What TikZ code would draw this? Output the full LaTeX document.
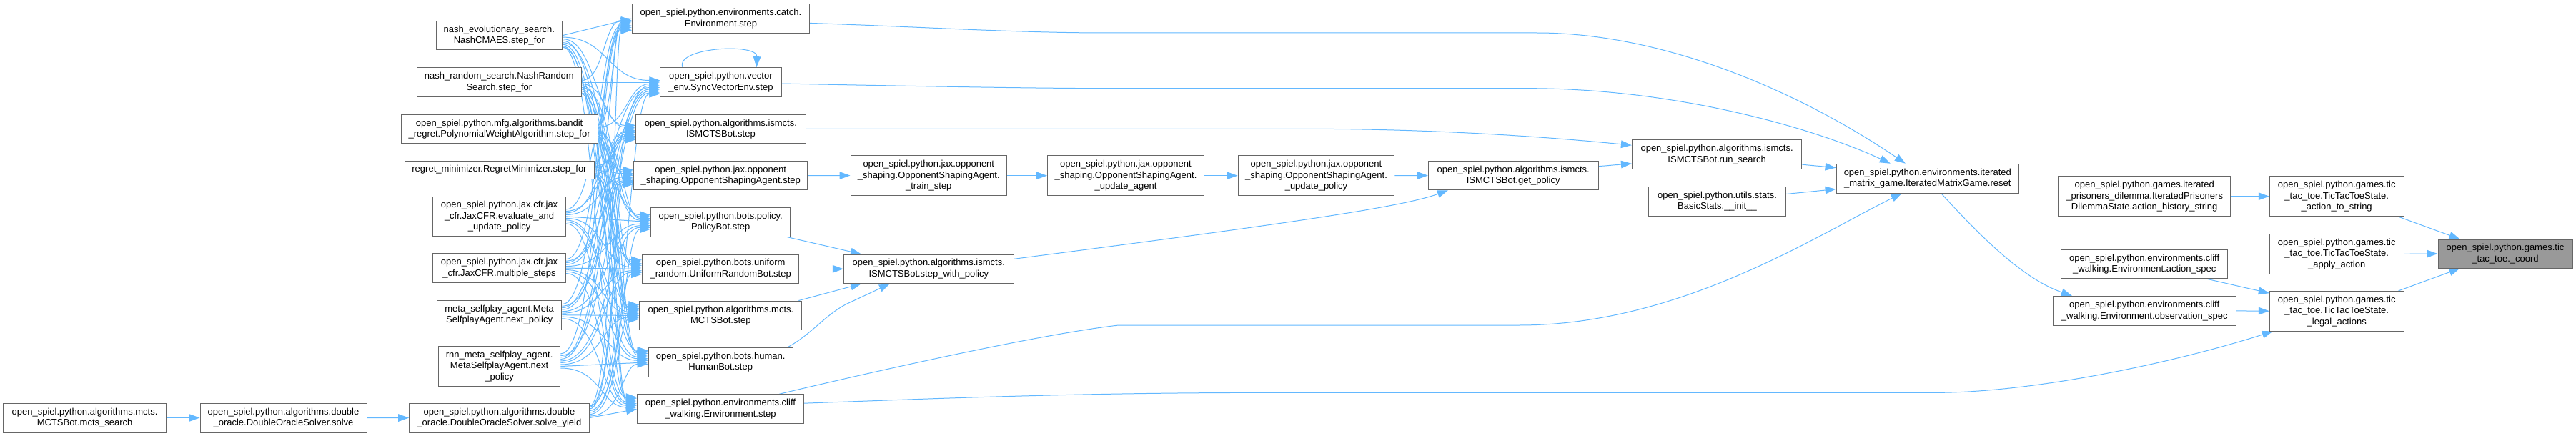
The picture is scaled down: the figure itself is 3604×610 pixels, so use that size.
\documentclass[tikz,border=0pt]{standalone}
\usepackage{fontspec}
\setmainfont{Liberation Sans}
\usetikzlibrary{arrows.meta,calc}
\definecolor{edgeblue}{HTML}{63B8FF}
\definecolor{boxgray}{HTML}{666666}
\definecolor{focusgray}{HTML}{999999}
\pgfdeclarelayer{background}
\pgfsetlayers{background,main}
\tikzset{
  box/.style={draw=boxgray, line width=1pt, fill=white, align=center, inner sep=0pt,
    font=\fontsize{13pt}{15.5pt}\selectfont, text=black},
  focus/.style={box, fill=focusgray},
  edge/.style={draw=edgeblue, line width=1pt, -{Triangle[length=15pt,width=10.5pt]}}
}
\begin{document}
\begin{tikzpicture}[x=1pt,y=-1pt]
\useasboundingbox (0,0) rectangle (3604,610);
% column 0/1
\node[box,minimum width=227.8pt,minimum height=41pt] (A0) at (118.6,584.5) {open\_spiel.python.algorithms.mcts.\\MCTSBot.mcts\_search};
\node[box,minimum width=233pt,minimum height=41pt] (A1) at (396.5,584.5) {open\_spiel.python.algorithms.double\\\_oracle.DoubleOracleSolver.solve};
% sources
\node[box,minimum width=176.4pt,minimum height=40.8pt] (S1) at (698.4,49.6) {nash\_evolutionary\_search.\\NashCMAES.step\_for};
\node[box,minimum width=229.3pt,minimum height=40.8pt] (S2) at (698.4,115) {nash\_random\_search.NashRandom\\Search.step\_for};
\node[box,minimum width=274.8pt,minimum height=40.8pt] (S3) at (698.6,180.4) {open\_spiel.python.mfg.algorithms.bandit\\\_regret.PolynomialWeightAlgorithm.step\_for};
\node[box,minimum width=265pt,minimum height=25.2pt] (S4) at (698.5,237.6) {regret\_minimizer.RegretMinimizer.step\_for};
\node[box,minimum width=186.2pt,minimum height=55.7pt] (S5) at (698.6,302.9) {open\_spiel.python.jax.cfr.jax\\\_cfr.JaxCFR.evaluate\_and\\\_update\_policy};
\node[box,minimum width=186.2pt,minimum height=40.4pt] (S6) at (698.6,375.1) {open\_spiel.python.jax.cfr.jax\\\_cfr.JaxCFR.multiple\_steps};
\node[box,minimum width=174.4pt,minimum height=41pt] (S7) at (698.6,440.7) {meta\_selfplay\_agent.Meta\\SelfplayAgent.next\_policy};
\node[box,minimum width=170.4pt,minimum height=55.3pt] (S8) at (698.6,512.5) {rnn\_meta\_selfplay\_agent.\\MetaSelfplayAgent.next\\\_policy};
\node[box,minimum width=251.4pt,minimum height=40.8pt] (S9) at (698.4,584.6) {open\_spiel.python.algorithms.double\\\_oracle.DoubleOracleSolver.solve\_yield};
% targets
\node[box,minimum width=248.4pt,minimum height=41pt] (T1) at (1008.4,25.9) {open\_spiel.python.environments.catch.\\Environment.step};
\node[box,minimum width=169.2pt,minimum height=40.8pt] (T2) at (1008.4,115) {open\_spiel.python.vector\\\_env.SyncVectorEnv.step};
\node[box,minimum width=237.2pt,minimum height=40.8pt] (T3) at (1008.4,180.4) {open\_spiel.python.algorithms.ismcts.\\ISMCTSBot.step};
\node[box,minimum width=243.2pt,minimum height=40.8pt] (T4) at (1008.2,245.4) {open\_spiel.python.jax.opponent\\\_shaping.OpponentShapingAgent.step};
\node[box,minimum width=195pt,minimum height=40.8pt] (T5) at (1008.2,310.7) {open\_spiel.python.bots.policy.\\PolicyBot.step};
\node[box,minimum width=219.4pt,minimum height=40.5pt] (T6) at (1008.2,376.3) {open\_spiel.python.bots.uniform\\\_random.UniformRandomBot.step};
\node[box,minimum width=226.9pt,minimum height=40.9pt] (T7) at (1008.4,441.5) {open\_spiel.python.algorithms.mcts.\\MCTSBot.step};
\node[box,minimum width=202pt,minimum height=40.8pt] (T8) at (1008.2,506.8) {open\_spiel.python.bots.human.\\HumanBot.step};
\node[box,minimum width=233.2pt,minimum height=40.8pt] (T9) at (1008,572.2) {open\_spiel.python.environments.cliff\\\_walking.Environment.step};
% middle chain
\node[box,minimum width=218.6pt,minimum height=55.6pt] (U1) at (1299.3,245.7) {open\_spiel.python.jax.opponent\\\_shaping.OpponentShapingAgent.\\\_train\_step};
\node[box,minimum width=237.7pt,minimum height=40.5pt] (U2) at (1299.3,376.3) {open\_spiel.python.algorithms.ismcts.\\ISMCTSBot.step\_with\_policy};
\node[box,minimum width=219.1pt,minimum height=55.6pt] (V1) at (1575,245.7) {open\_spiel.python.jax.opponent\\\_shaping.OpponentShapingAgent.\\\_update\_agent};
\node[box,minimum width=218.9pt,minimum height=55.6pt] (W1) at (1841.5,245.7) {open\_spiel.python.jax.opponent\\\_shaping.OpponentShapingAgent.\\\_update\_policy};
\node[box,minimum width=237.7pt,minimum height=40.8pt] (X1) at (2117.2,245.4) {open\_spiel.python.algorithms.ismcts.\\ISMCTSBot.get\_policy};
\node[box,minimum width=237.4pt,minimum height=40.9pt] (Y1) at (2402.1,216.2) {open\_spiel.python.algorithms.ismcts.\\ISMCTSBot.run\_search};
\node[box,minimum width=191.6pt,minimum height=41pt] (Y2) at (2402.5,281.5) {open\_spiel.python.utils.stats.\\BasicStats.\_\_init\_\_};
\node[box,minimum width=255.5pt,minimum height=40.8pt] (Z1) at (2696.8,249.6) {open\_spiel.python.environments.iterated\\\_matrix\_game.IteratedMatrixGame.reset};
% right part
\node[box,minimum width=240.8pt,minimum height=56pt] (AH) at (3000.2,274.7) {open\_spiel.python.games.iterated\\\_prisoners\_dilemma.IteratedPrisoners\\DilemmaState.action\_history\_string};
\node[box,minimum width=233.5pt,minimum height=40.5pt] (AS) at (3000.2,369.7) {open\_spiel.python.environments.cliff\\\_walking.Environment.action\_spec};
\node[box,minimum width=255.8pt,minimum height=41pt] (OS) at (3000.2,434.9) {open\_spiel.python.environments.cliff\\\_walking.Environment.observation\_spec};
\node[box,minimum width=187.7pt,minimum height=56pt] (AT) at (3269.2,274.7) {open\_spiel.python.games.tic\\\_tac\_toe.TicTacToeState.\\\_action\_to\_string};
\node[box,minimum width=187.7pt,minimum height=56pt] (AA) at (3269.2,355.3) {open\_spiel.python.games.tic\\\_tac\_toe.TicTacToeState.\\\_apply\_action};
\node[box,minimum width=187.7pt,minimum height=55.6pt] (LA) at (3269.2,435.2) {open\_spiel.python.games.tic\\\_tac\_toe.TicTacToeState.\\\_legal\_actions};
\node[focus,minimum width=188pt,minimum height=40pt] (CO) at (3505,355) {open\_spiel.python.games.tic\\\_tac\_toe.\_coord};

\begin{pgfonlayer}{background}
% dense bundle sources -> targets
\foreach \i in {1,...,9}{
  \foreach \j in {1,...,9}{
    \pgfmathsetmacro\myhs{{20.4,20.4,20.4,12.6,27.8,20.2,20.5,27.6,20.4}[\i-1]-4}
    \pgfmathsetmacro\mydS{max(-\myhs,min(\myhs,(\j-\i)*2.5))}
    \pgfmathsetmacro\mydT{max(-16.4,min(16.4,(\i-\j)*2.5))}
    \pgfmathsetmacro\myjit{(\i-5)*1.2}
    \ifnum\i=\j
      \draw[edge] (S\i.east) -- (T\j.west);
    \else
      \draw[edge] let \p1=($(S\i.east)+(0,\mydS)$), \p2=($(T\j.west)+(0,\mydT)$) in
        (\p1) .. controls ({0.5*(\x1+\x2)+\myjit pt},\y1) and ({0.5*(\x1+\x2)+\myjit pt},\y2) .. (\p2);
    \fi
  }
}
% chain at bottom left
\draw[edge] (A0) -- (A1);
\draw[edge] (A1) -- (S9);
% self loop
\draw[edge] ($(T2.north west)+(31.6,0)$) .. controls (945,66) and (1060,60) .. ($(T2.north)+(50,0)$);
% targets to the right
\draw[edge] ($(T1.east)+(0,6.5)$) .. controls (1300,38) and (1420,46) .. (1550,46) -- (2150,46) .. controls (2330,46) and (2520,130) .. ($(Z1.north)+(-31,0)$);
\draw[edge] ($(T2.east)+(0,2)$) .. controls (1300,121) and (1450,123.7) .. (1560,123.7) -- (2145,123.7) .. controls (2350,125) and (2540,180) .. ($(Z1.north)+(-52,0)$);
\draw[edge] (T3.east) -- (1850,180.4) .. controls (2000,181) and (2150,190) .. ($(Y1.west)+(0,-13)$);
\draw[edge] (T4) -- (U1);
\draw[edge] ($(T5.south east)+(-5,0)$) -- ($(U2.north west)+(25,0)$);
\draw[edge] (T6) -- (U2);
\draw[edge] ($(T7.north east)+(-5,0)$) -- ($(U2.south west)+(25,0)$);
\draw[edge] ($(T8.north east)+(-8,0)$) .. controls (1135,468) and (1155,440) .. (1185,425) -- ($(U2.south west)+(65,0)$);
\draw[edge] ($(T9.north east)+(-35,0)$) .. controls (1200,525) and (1450,468) .. (1565,455) -- (2125,455) .. controls (2350,455) and (2540,330) .. ($(Z1.south)+(-36,0)$);
\draw[edge] ($(T9.east)+(0,-8)$) .. controls (1300,558) and (1500,549.4) .. (1770,549.4) -- (2706,549.4) .. controls (2850,549.4) and (3050,505) .. ($(LA.south west)+(5,0)$);
% middle chain
\draw[edge] (U1) -- (V1);
\draw[edge] (V1) -- (W1);
\draw[edge] (W1) -- (X1);
\draw[edge] ($(U2.east)+(0,-14)$) .. controls (1800,313) and (1960,290) .. ($(X1.south west)+(28,0)$);
\draw[edge] ($(X1.east)+(0,-12.7)$) -- ($(Y1.west)+(0,12.6)$);
\draw[edge] ($(Y1.east)+(0,14)$) -- ($(Z1.west)+(0,-15)$);
\draw[edge] ($(Y2.east)+(0,-10)$) -- ($(Z1.west)+(0,15)$);
\draw[edge] ($(Z1.south)+(19,0)$) .. controls (2770,330) and (2830,390) .. ($(OS.north west)+(27,0)$);
% right part
\draw[edge] (AH) -- (AT);
\draw[edge] ($(AS.south east)+(-29,0)$) -- ($(LA.west)+(0,-25)$);
\draw[edge] (OS.east) -- (LA.west);
\draw[edge] ($(AT.south east)+(-8,0)$) -- ($(CO.north west)+(31,0)$);
\draw[edge] (AA.east) -- (CO.west);
\draw[edge] ($(LA.north east)+(-8,0)$) -- ($(CO.south west)+(31,0)$);
\end{pgfonlayer}
\end{tikzpicture}
\end{document}
